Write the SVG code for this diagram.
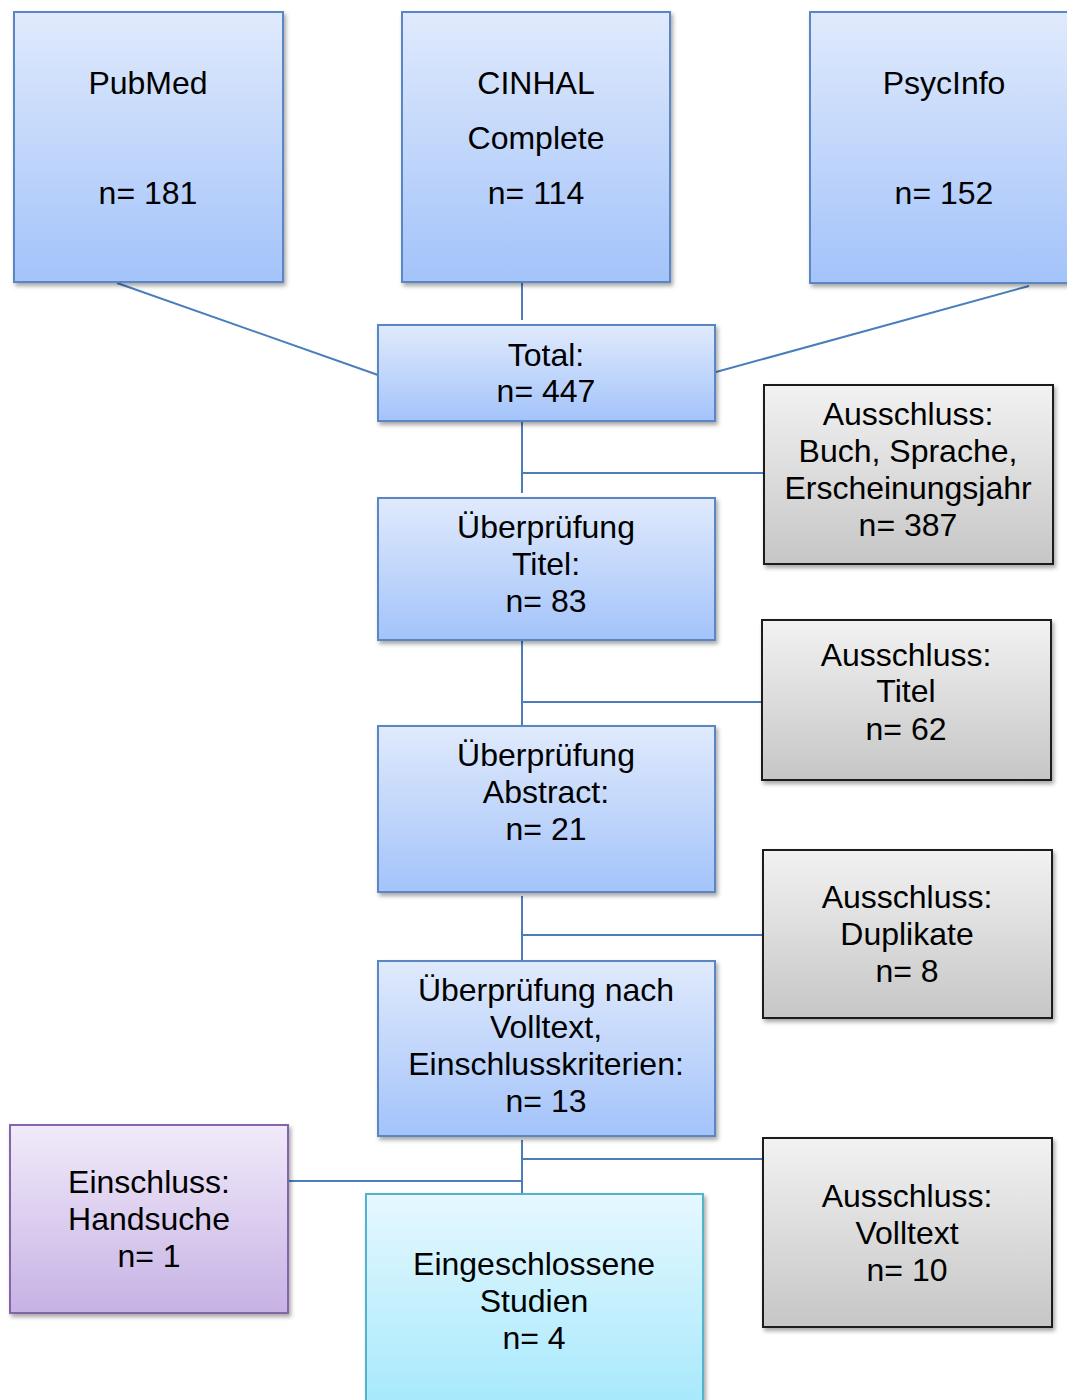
<svg xmlns="http://www.w3.org/2000/svg" width="1067" height="1400" viewBox="0 0 1067 1400">
<defs>
<linearGradient id="gBlue" x1="0" y1="0" x2="0" y2="1"><stop offset="0" stop-color="#e0eafc"/><stop offset="1" stop-color="#a3c3fa"/></linearGradient>
<linearGradient id="gGray" x1="0" y1="0" x2="0" y2="1"><stop offset="0" stop-color="#f2f2f2"/><stop offset="1" stop-color="#c6c6c6"/></linearGradient>
<linearGradient id="gPurple" x1="0" y1="0" x2="0" y2="1"><stop offset="0" stop-color="#f1eafa"/><stop offset="1" stop-color="#c6b2e4"/></linearGradient>
<linearGradient id="gCyan" x1="0" y1="0" x2="0" y2="1"><stop offset="0" stop-color="#e6f8ff"/><stop offset="1" stop-color="#a4e8fc"/></linearGradient>
<filter id="sh" x="-10%" y="-10%" width="120%" height="120%"><feDropShadow dx="2" dy="3" stdDeviation="2" flood-color="#000" flood-opacity="0.35"/></filter>
</defs>
<style>
.blue{fill:url(#gBlue);stroke:#5a86c4;stroke-width:2;filter:url(#sh)}
.gray{fill:url(#gGray);stroke:#1f1f1f;stroke-width:2;filter:url(#sh)}
.purple{fill:url(#gPurple);stroke:#8466a8;stroke-width:2;filter:url(#sh)}
.cyan{fill:url(#gCyan);stroke:#52b3cc;stroke-width:2;filter:url(#sh)}
text{font-family:"Liberation Sans",Arial,sans-serif;font-size:32px;fill:#000;text-anchor:middle}
.c line{stroke:#4a7ebb;stroke-width:2}
</style>
<g class="c" id="connectors">
<line x1="117" y1="283" x2="378" y2="375"/>
<line x1="522" y1="283" x2="522" y2="320"/>
<line x1="1029" y1="286" x2="716" y2="372"/>
<line x1="522" y1="421" x2="522" y2="493"/>
<line x1="522" y1="473" x2="764" y2="473"/>
<line x1="522" y1="640" x2="522" y2="726"/>
<line x1="522" y1="702" x2="762" y2="702"/>
<line x1="522" y1="896" x2="522" y2="961"/>
<line x1="522" y1="935" x2="763" y2="935"/>
<line x1="522" y1="1140" x2="522" y2="1194"/>
<line x1="522" y1="1159" x2="763" y2="1159"/>
<line x1="288" y1="1181" x2="522" y2="1181"/>
</g>
<g id="pubmed"><rect class="blue" x="14" y="12" width="269" height="270"/><text x="148" y="94">PubMed</text><text x="148" y="204">n= 181</text></g>
<g id="cinhal"><rect class="blue" x="402" y="12" width="268" height="270"/><text x="536" y="94">CINHAL</text><text x="536" y="149">Complete</text><text x="536" y="204">n= 114</text></g>
<g id="psycinfo"><rect class="blue" x="810" y="12" width="270" height="271"/><text x="944" y="94">PsycInfo</text><text x="944" y="204">n= 152</text></g>
<g id="total"><rect class="blue" x="378" y="325" width="337" height="96"/><text x="546" y="366">Total:</text><text x="546" y="402">n= 447</text></g>
<g id="aus1"><rect class="gray" x="764" y="385" width="289" height="179"/><text x="908" y="425">Ausschluss:</text><text x="908" y="462">Buch, Sprache,</text><text x="908" y="499">Erscheinungsjahr</text><text x="908" y="536">n= 387</text></g>
<g id="titel"><rect class="blue" x="378" y="498" width="337" height="142"/><text x="546" y="538">Überprüfung</text><text x="546" y="575">Titel:</text><text x="546" y="612">n= 83</text></g>
<g id="aus2"><rect class="gray" x="762" y="620" width="289" height="160"/><text x="906" y="666">Ausschluss:</text><text x="906" y="702">Titel</text><text x="906" y="740">n= 62</text></g>
<g id="abstract"><rect class="blue" x="378" y="726" width="337" height="166"/><text x="546" y="766">Überprüfung</text><text x="546" y="803">Abstract:</text><text x="546" y="840">n= 21</text></g>
<g id="aus3"><rect class="gray" x="763" y="850" width="289" height="168"/><text x="907" y="908">Ausschluss:</text><text x="907" y="945">Duplikate</text><text x="907" y="982">n= 8</text></g>
<g id="volltext"><rect class="blue" x="378" y="961" width="337" height="175"/><text x="546" y="1001">Überprüfung nach</text><text x="546" y="1038">Volltext,</text><text x="546" y="1075">Einschlusskriterien:</text><text x="546" y="1112">n= 13</text></g>
<g id="handsuche"><rect class="purple" x="10" y="1125" width="278" height="188"/><text x="149" y="1193">Einschluss:</text><text x="149" y="1230">Handsuche</text><text x="149" y="1267">n= 1</text></g>
<g id="eingeschlossen"><rect class="cyan" x="366" y="1194" width="337" height="220"/><text x="534" y="1275">Eingeschlossene</text><text x="534" y="1312">Studien</text><text x="534" y="1349">n= 4</text></g>
<g id="aus4"><rect class="gray" x="763" y="1138" width="289" height="189"/><text x="907" y="1207">Ausschluss:</text><text x="907" y="1244">Volltext</text><text x="907" y="1281">n= 10</text></g>
</svg>
